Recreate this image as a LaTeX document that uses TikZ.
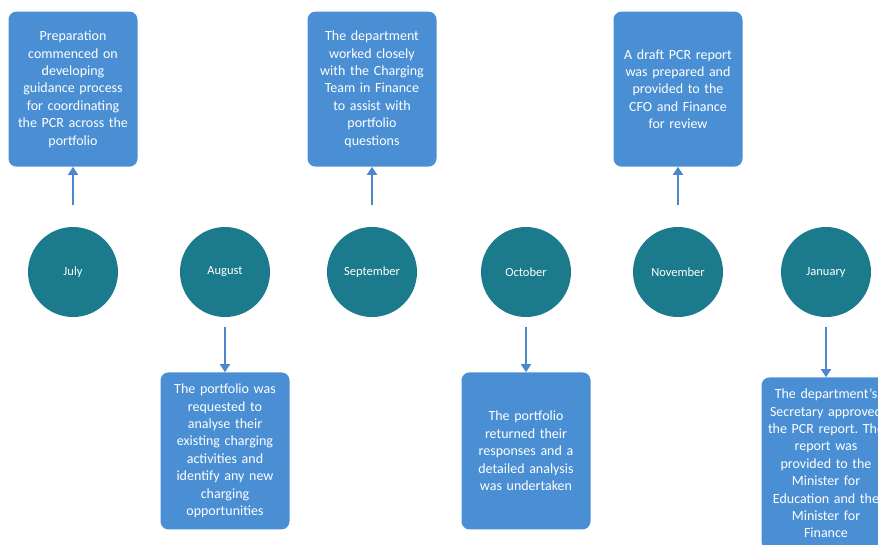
\documentclass[tikz,border=0pt]{standalone}
\usepackage{fontspec}
\setmainfont{Carlito}
\frenchspacing
\usetikzlibrary{positioning,arrows.meta}
\definecolor{monthteal}{HTML}{1B7A8C}
\definecolor{eventblue}{HTML}{4A8FD4}
\definecolor{arrowblue}{HTML}{4A88CC}
\tikzset{
  month/.style={circle, fill=monthteal, text=white, minimum size=90pt, inner sep=0pt,
    font=\fontsize{12.5}{14}\selectfont},
  event/.style={rectangle, rounded corners=8pt, fill=eventblue, text=white,
    text width=117pt, inner xsep=6pt, inner ysep=0pt, align=center,
    font=\fontsize{14}{17.4}\selectfont},
  link/.style={draw=arrowblue, line width=1.8pt, -{Triangle[width=10pt,length=8pt]}}
}

\begin{document}
\begin{tikzpicture}[x=1pt,y=-1pt]
\clip (0,0) rectangle (878,544);

% months
\node[month] (jul) at (73,272) {July};%
\node[month] (aug) at (225,272) {August};%
\node[month] (sep) at (372,272) {September};%
\node[month] (oct) at (526,272) {October};%
\node[month] (nov) at (678,272) {November};%
\node[month] (jan) at (826,272) {January};%

% events above
\node[event, minimum height=155pt, above=60pt of jul] (prep) {Preparation\\commenced on\\developing\\guidance process\\for coordinating\\the PCR across the\\portfolio};%
\node[event, minimum height=155pt, above=60pt of sep] (team) {The department\\worked closely\\with the Charging\\Team in Finance\\to assist with\\portfolio\\questions};%
\node[event, minimum height=155pt, above=60pt of nov] (draft) {A draft PCR report\\was prepared and\\provided to the\\CFO and Finance\\for review};%

% events below
\node[event, minimum height=157pt, below=55pt of aug] (req) {The portfolio was\\requested to\\analyse their\\existing charging\\activities and\\identify any new\\charging\\opportunities};%
\node[event, minimum height=157pt, below=55pt of oct] (resp) {The portfolio\\returned their\\responses and a\\detailed analysis\\was undertaken};%
\node[event, minimum height=172pt, below=60pt of jan] (appr) {The department's\\Secretary approved\\the PCR report. The\\report was\\provided to the\\Minister for\\Education and the\\Minister for\\Finance};%

% links
\draw[link, shorten <=22pt] (jul) -- (prep);
\draw[link, shorten <=22pt] (sep) -- (team);
\draw[link, shorten <=22pt] (nov) -- (draft);
\draw[link, shorten <=10pt] (aug) -- (req);
\draw[link, shorten <=10pt] (oct) -- (resp);
\draw[link, shorten <=10pt] (jan) -- (appr);

\end{tikzpicture}
\end{document}
